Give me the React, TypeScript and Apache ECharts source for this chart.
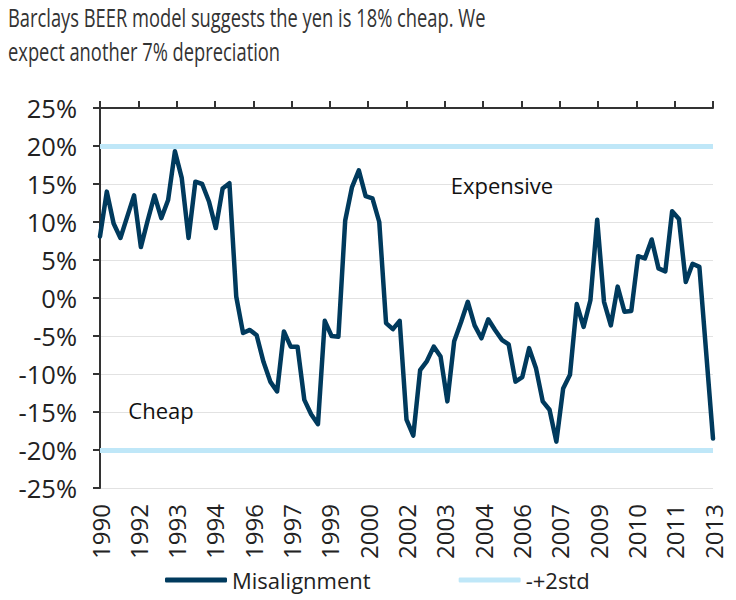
import React, { useEffect, useRef } from "react";
import * as echarts from "echarts";

const titleLines = [
  "Barclays BEER model suggests the yen is 18% cheap. We",
  "expect another 7% depreciation",
];

// Misalignment (%), one value per period
const misalignment = [
  8.1, 14.0, 9.8, 7.9, 10.7, 13.5, 6.7, 10.2, 13.5, 10.5,
  12.9, 19.3, 15.8, 7.9, 15.3, 15.0, 12.7, 9.2, 14.4, 15.1,
  0.2, -4.6, -4.2, -4.9, -8.4, -11.0, -12.3, -4.4, -6.4, -6.4,
  -13.4, -15.3, -16.6, -3.0, -5.0, -5.1, 10.2, 14.6, 16.8, 13.4,
  13.1, 10.0, -3.3, -4.1, -3.0, -16.0, -18.1, -9.5, -8.3, -6.4,
  -7.7, -13.6, -5.7, -3.2, -0.5, -3.6, -5.3, -2.8, -4.2, -5.5,
  -6.1, -11.0, -10.4, -6.6, -9.2, -13.6, -14.7, -18.9, -11.9, -10.1,
  -0.8, -3.8, -0.3, 10.3, -0.5, -3.6, 1.5, -1.8, -1.7, 5.5,
  5.2, 7.7, 3.9, 3.5, 11.4, 10.4, 2.1, 4.5, 4.1, -7.2,
  -18.5,
];

// +/- 2 standard deviation band (%)
const stdBand = [20, -20];

const xTickLabels = [
  "1990", "1992", "1993", "1994", "1996", "1997", "1999", "2000", "2002",
  "2003", "2004", "2006", "2007", "2009", "2010", "2011", "2013",
];

const yMin = -25;
const yMax = 25;
const yStep = 5;

const annotations = [
  { text: "Expensive", x: 502, y: 185 },
  { text: "Cheap", x: 161, y: 410 },
];

const NAVY = "#003a5d";
const LIGHT = "#bfe7f8";
const FONT = "'Open Sans', 'Noto Sans', sans-serif";

export default function App() {
  const ref = useRef<HTMLDivElement>(null);

  useEffect(() => {
    if (!ref.current) return;
    const chart = echarts.init(ref.current, null, { renderer: "svg" });
    const lastIdx = xTickLabels.length - 1;
    chart.setOption({
      animation: false,
      backgroundColor: "#ffffff",
      textStyle: { fontFamily: FONT },
      legend: {
        left: 160,
        top: 564,
        icon: "roundRect",
        itemWidth: 62,
        itemHeight: 5,
        itemGap: 88,
        textStyle: { fontFamily: FONT, fontSize: 22, color: "#222222" },
        data: ["Misalignment", "-+2std"],
      },
      grid: { left: 100, right: 23, top: 108, bottom: 112, containLabel: false },
      xAxis: [
        {
          type: "category",
          boundaryGap: false,
          data: misalignment.map((_, i) => String(i)),
          show: false,
        },
        {
          type: "value",
          min: 0,
          max: lastIdx,
          interval: 1,
          axisLine: { show: true, onZero: true, lineStyle: { color: "#333333", width: 2 } },
          axisTick: { show: true, length: 7, lineStyle: { color: "#333333", width: 2 } },
          axisLabel: { show: false },
          splitLine: { show: false },
        },
        {
          type: "value",
          min: 0,
          max: lastIdx,
          interval: 1,
          position: "bottom",
          axisLine: { show: false, onZero: false },
          axisTick: { show: false },
          splitLine: { show: false },
          axisLabel: {
            show: true,
            rotate: 90,
            margin: 16,
            fontFamily: FONT,
            fontSize: 24,
            color: "#222222",
            formatter: (v: number) => xTickLabels[Math.round(v)] ?? "",
          },
        },
      ],
      yAxis: {
        type: "value",
        min: yMin,
        max: yMax,
        interval: yStep,
        axisLine: { show: true, onZero: false, lineStyle: { color: "#333333", width: 2 } },
        axisTick: { show: true, length: 7, lineStyle: { color: "#333333", width: 2 } },
        axisLabel: {
          margin: 23,
          fontFamily: FONT,
          fontSize: 25.5,
          color: "#222222",
          formatter: (v: number) => `${v}%`,
        },
        splitLine: { show: true, lineStyle: { color: "#e2e2e2", width: 1 } },
      },
      graphic: [
        {
          type: "text",
          x: 8,
          y: 0,
          scaleX: 0.705,
          style: {
            text: titleLines.join("\n"),
            fontFamily: FONT,
            fontSize: 26,
            lineHeight: 34,
            fill: "#333333",
            align: "left",
            verticalAlign: "top",
          },
          z: 10,
        },
        ...annotations.map((a) => ({
          type: "text",
          x: a.x,
          y: a.y,
          style: {
            text: a.text,
            fontFamily: FONT,
            fontSize: 22,
            fill: "#111111",
            align: "center",
            verticalAlign: "middle",
          },
          z: 10,
        })),
      ],
      series: [
        {
          name: "-+2std",
          type: "line",
          xAxisIndex: 0,
          data: [],
          itemStyle: { color: LIGHT },
          lineStyle: { color: LIGHT, width: 5 },
          markLine: {
            silent: true,
            symbol: "none",
            label: { show: false },
            lineStyle: { color: LIGHT, width: 5, type: "solid" },
            data: stdBand.map((v) => ({ yAxis: v })),
          },
          z: 2,
        },
        {
          name: "Misalignment",
          type: "line",
          xAxisIndex: 0,
          data: misalignment,
          showSymbol: false,
          symbol: "none",
          itemStyle: { color: NAVY },
          lineStyle: { color: NAVY, width: 4.5, join: "round", cap: "round" },
          z: 5,
        },
      ],
    });
    return () => chart.dispose();
  }, []);

  return (
    <div
      ref={ref}
      style={{ width: 736, height: 600, marginTop: -8, marginLeft: -8 }}
    />
  );
}
